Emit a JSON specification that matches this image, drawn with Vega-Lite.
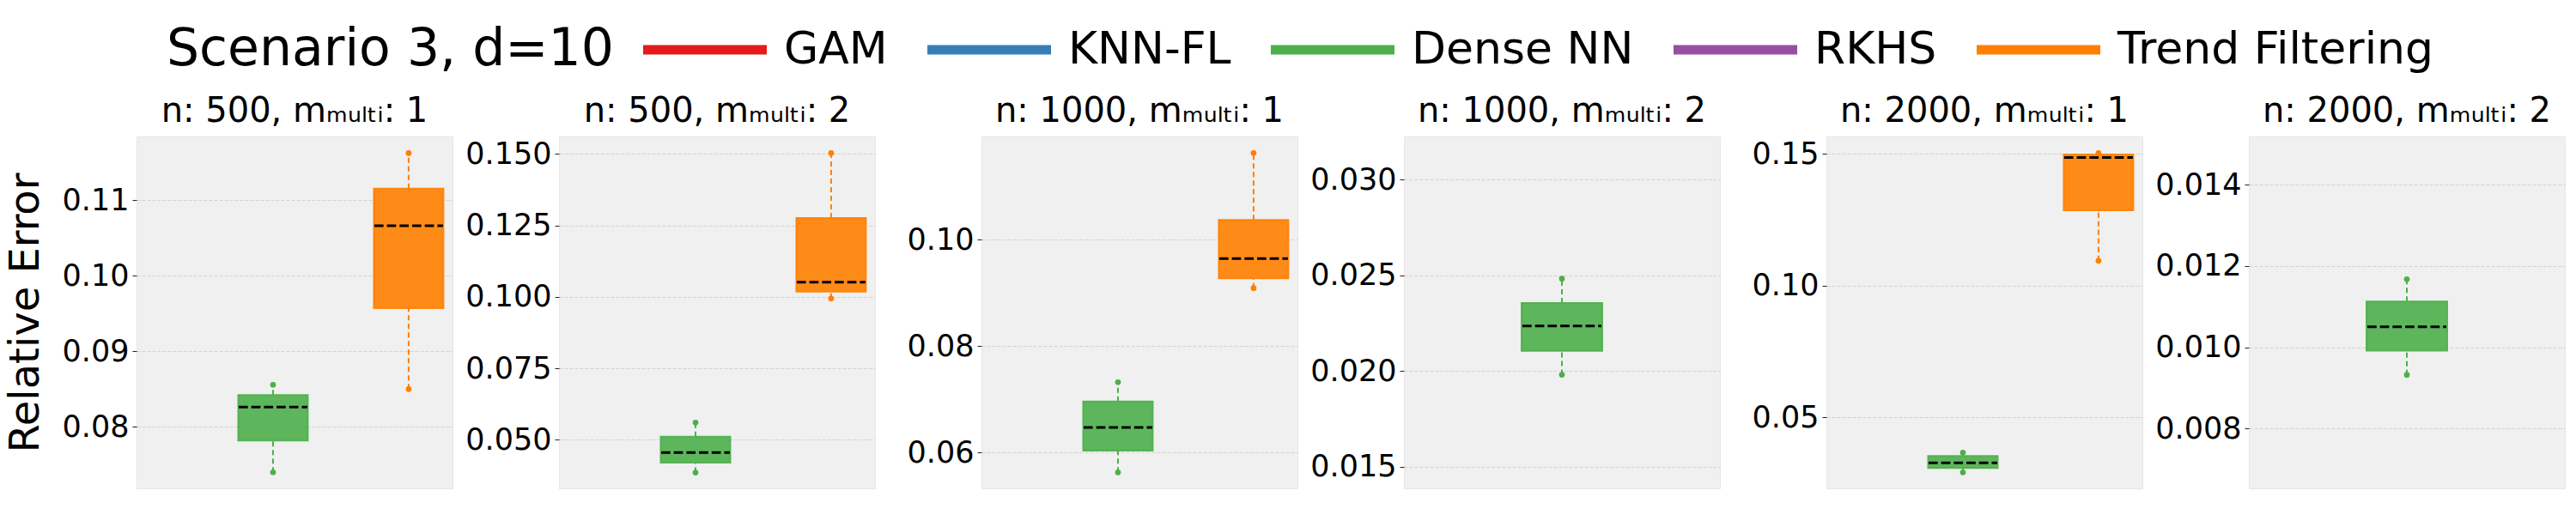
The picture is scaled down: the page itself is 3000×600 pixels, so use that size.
{
  "$schema": "https://vega.github.io/schema/vega-lite/v6.json",
  "background": "white",
  "padding": {"left": 5, "top": 32, "right": 5, "bottom": 29},
  "data": {"values": [
    {"panel": 1, "method": "Dense NN", "lower": 0.07398, "q1": 0.07818, "median": 0.08261, "q3": 0.08420, "upper": 0.08557},
    {"panel": 1, "method": "Trend Filtering", "lower": 0.0850, "q1": 0.09572, "median": 0.10663, "q3": 0.11155, "upper": 0.11625},
    {"panel": 2, "method": "Dense NN", "lower": 0.0385, "q1": 0.0420, "median": 0.0455, "q3": 0.0511, "upper": 0.0560},
    {"panel": 2, "method": "Trend Filtering", "lower": 0.0994, "q1": 0.1018, "median": 0.10511, "q3": 0.12758, "upper": 0.1503},
    {"panel": 3, "method": "Dense NN", "lower": 0.05629, "q1": 0.06037, "median": 0.06473, "q3": 0.06961, "upper": 0.07323},
    {"panel": 3, "method": "Trend Filtering", "lower": 0.0909, "q1": 0.09274, "median": 0.09645, "q3": 0.10371, "upper": 0.11629},
    {"panel": 4, "method": "Dense NN", "lower": 0.01981, "q1": 0.02106, "median": 0.02236, "q3": 0.02355, "upper": 0.02482},
    {"panel": 5, "method": "Dense NN", "lower": 0.02915, "q1": 0.03078, "median": 0.03274, "q3": 0.03534, "upper": 0.03664},
    {"panel": 5, "method": "Trend Filtering", "lower": 0.10945, "q1": 0.1286, "median": 0.1486, "q3": 0.1498, "upper": 0.1503},
    {"panel": 6, "method": "Dense NN", "lower": 0.009324, "q1": 0.009916, "median": 0.010507, "q3": 0.011126, "upper": 0.011675}
  ]},
  "hconcat": [
    {
      "width": 368, "height": 410,
      "title": "n: 500, mₘᵤₗₜᵢ: 1",
      "transform": [{"filter": "datum.panel == 1"}],
      "encoding": {"x": {"field": "method", "type": "nominal", "scale": {"type": "point", "domain": ["GAM", "KNN-FL", "Dense NN", "RKHS", "Trend Filtering"], "padding": 0.33, "align": 0.02}, "axis": null}},
      "layer": [
        {"mark": {"type": "bar", "size": 81, "fillOpacity": 0.9},
         "encoding": {"y": {"field": "q1", "type": "quantitative", "title": "Relative Error", "scale": {"domain": [0.07185, 0.11844], "nice": false, "zero": false}, "axis": {"values": [0.08, 0.09, 0.10, 0.11], "format": ".2f"}}, "y2": {"field": "q3"},
                      "color": {"field": "method", "type": "nominal", "title": "Scenario 3, d=10", "scale": {"domain": ["GAM", "KNN-FL", "Dense NN", "RKHS", "Trend Filtering"], "range": ["#e41a1c", "#377eb8", "#4daf4a", "#984ea3", "#ff7f00"]}}}},
        {"mark": {"type": "bar", "size": 81, "filled": false, "strokeWidth": 2, "strokeOpacity": 0.9},
         "encoding": {"y": {"field": "q1", "type": "quantitative", "title": "Relative Error"}, "y2": {"field": "q3"}, "color": {"field": "method", "type": "nominal", "title": "Scenario 3, d=10"}}},
        {"mark": {"type": "rule", "strokeDash": [6, 4], "strokeWidth": 2},
         "encoding": {"y": {"field": "lower", "type": "quantitative", "title": "Relative Error"}, "y2": {"field": "q1"}, "color": {"field": "method", "type": "nominal", "title": "Scenario 3, d=10"}}},
        {"mark": {"type": "rule", "strokeDash": [6, 4], "strokeWidth": 2},
         "encoding": {"y": {"field": "q3", "type": "quantitative", "title": "Relative Error"}, "y2": {"field": "upper"}, "color": {"field": "method", "type": "nominal", "title": "Scenario 3, d=10"}}},
        {"mark": {"type": "rule", "strokeDash": [10.7, 4], "strokeWidth": 3, "color": "black", "xOffset": -40, "x2Offset": 40},
         "encoding": {"y": {"field": "median", "type": "quantitative", "title": "Relative Error"}, "x2": {"field": "method"}}},
        {"mark": {"type": "point", "filled": true, "size": 45, "opacity": 1},
         "encoding": {"y": {"field": "lower", "type": "quantitative", "title": "Relative Error"}, "color": {"field": "method", "type": "nominal", "title": "Scenario 3, d=10"}}},
        {"mark": {"type": "point", "filled": true, "size": 45, "opacity": 1},
         "encoding": {"y": {"field": "upper", "type": "quantitative", "title": "Relative Error"}, "color": {"field": "method", "type": "nominal", "title": "Scenario 3, d=10"}}}
      ]
    },
    {
      "width": 368, "height": 410,
      "title": "n: 500, mₘᵤₗₜᵢ: 2",
      "transform": [{"filter": "datum.panel == 2"}],
      "encoding": {"x": {"field": "method", "type": "nominal", "scale": {"type": "point", "domain": ["GAM", "KNN-FL", "Dense NN", "RKHS", "Trend Filtering"], "padding": 0.33, "align": 0.02}, "axis": null}},
      "layer": [
        {"mark": {"type": "bar", "size": 81, "fillOpacity": 0.9},
         "encoding": {"y": {"field": "q1", "type": "quantitative", "title": null, "scale": {"domain": [0.03297, 0.15610], "nice": false, "zero": false}, "axis": {"values": [0.05, 0.075, 0.1, 0.125, 0.15], "format": ".3f"}}, "y2": {"field": "q3"},
                      "color": {"field": "method", "type": "nominal", "title": "Scenario 3, d=10", "scale": {"domain": ["GAM", "KNN-FL", "Dense NN", "RKHS", "Trend Filtering"], "range": ["#e41a1c", "#377eb8", "#4daf4a", "#984ea3", "#ff7f00"]}}}},
        {"mark": {"type": "bar", "size": 81, "filled": false, "strokeWidth": 2, "strokeOpacity": 0.9},
         "encoding": {"y": {"field": "q1", "type": "quantitative", "title": null}, "y2": {"field": "q3"}, "color": {"field": "method", "type": "nominal", "title": "Scenario 3, d=10"}}},
        {"mark": {"type": "rule", "strokeDash": [6, 4], "strokeWidth": 2},
         "encoding": {"y": {"field": "lower", "type": "quantitative", "title": null}, "y2": {"field": "q1"}, "color": {"field": "method", "type": "nominal", "title": "Scenario 3, d=10"}}},
        {"mark": {"type": "rule", "strokeDash": [6, 4], "strokeWidth": 2},
         "encoding": {"y": {"field": "q3", "type": "quantitative", "title": null}, "y2": {"field": "upper"}, "color": {"field": "method", "type": "nominal", "title": "Scenario 3, d=10"}}},
        {"mark": {"type": "rule", "strokeDash": [10.7, 4], "strokeWidth": 3, "color": "black", "xOffset": -40, "x2Offset": 40},
         "encoding": {"y": {"field": "median", "type": "quantitative", "title": null}, "x2": {"field": "method"}}},
        {"mark": {"type": "point", "filled": true, "size": 45, "opacity": 1},
         "encoding": {"y": {"field": "lower", "type": "quantitative", "title": null}, "color": {"field": "method", "type": "nominal", "title": "Scenario 3, d=10"}}},
        {"mark": {"type": "point", "filled": true, "size": 45, "opacity": 1},
         "encoding": {"y": {"field": "upper", "type": "quantitative", "title": null}, "color": {"field": "method", "type": "nominal", "title": "Scenario 3, d=10"}}}
      ]
    },
    {
      "width": 368, "height": 410,
      "title": "n: 1000, mₘᵤₗₜᵢ: 1",
      "transform": [{"filter": "datum.panel == 3"}],
      "encoding": {"x": {"field": "method", "type": "nominal", "scale": {"type": "point", "domain": ["GAM", "KNN-FL", "Dense NN", "RKHS", "Trend Filtering"], "padding": 0.33, "align": 0.02}, "axis": null}},
      "layer": [
        {"mark": {"type": "bar", "size": 81, "fillOpacity": 0.9},
         "encoding": {"y": {"field": "q1", "type": "quantitative", "title": null, "scale": {"domain": [0.05327, 0.1194], "nice": false, "zero": false}, "axis": {"values": [0.06, 0.08, 0.10], "format": ".2f"}}, "y2": {"field": "q3"},
                      "color": {"field": "method", "type": "nominal", "title": "Scenario 3, d=10", "scale": {"domain": ["GAM", "KNN-FL", "Dense NN", "RKHS", "Trend Filtering"], "range": ["#e41a1c", "#377eb8", "#4daf4a", "#984ea3", "#ff7f00"]}}}},
        {"mark": {"type": "bar", "size": 81, "filled": false, "strokeWidth": 2, "strokeOpacity": 0.9},
         "encoding": {"y": {"field": "q1", "type": "quantitative", "title": null}, "y2": {"field": "q3"}, "color": {"field": "method", "type": "nominal", "title": "Scenario 3, d=10"}}},
        {"mark": {"type": "rule", "strokeDash": [6, 4], "strokeWidth": 2},
         "encoding": {"y": {"field": "lower", "type": "quantitative", "title": null}, "y2": {"field": "q1"}, "color": {"field": "method", "type": "nominal", "title": "Scenario 3, d=10"}}},
        {"mark": {"type": "rule", "strokeDash": [6, 4], "strokeWidth": 2},
         "encoding": {"y": {"field": "q3", "type": "quantitative", "title": null}, "y2": {"field": "upper"}, "color": {"field": "method", "type": "nominal", "title": "Scenario 3, d=10"}}},
        {"mark": {"type": "rule", "strokeDash": [10.7, 4], "strokeWidth": 3, "color": "black", "xOffset": -40, "x2Offset": 40},
         "encoding": {"y": {"field": "median", "type": "quantitative", "title": null}, "x2": {"field": "method"}}},
        {"mark": {"type": "point", "filled": true, "size": 45, "opacity": 1},
         "encoding": {"y": {"field": "lower", "type": "quantitative", "title": null}, "color": {"field": "method", "type": "nominal", "title": "Scenario 3, d=10"}}},
        {"mark": {"type": "point", "filled": true, "size": 45, "opacity": 1},
         "encoding": {"y": {"field": "upper", "type": "quantitative", "title": null}, "color": {"field": "method", "type": "nominal", "title": "Scenario 3, d=10"}}}
      ]
    },
    {
      "width": 368, "height": 410,
      "title": "n: 1000, mₘᵤₗₜᵢ: 2",
      "transform": [{"filter": "datum.panel == 4"}],
      "encoding": {"x": {"field": "method", "type": "nominal", "scale": {"type": "point", "domain": ["GAM", "KNN-FL", "Dense NN", "RKHS", "Trend Filtering"], "padding": 0.5, "align": 0.5}, "axis": null}},
      "layer": [
        {"mark": {"type": "bar", "size": 94, "fillOpacity": 0.9},
         "encoding": {"y": {"field": "q1", "type": "quantitative", "title": null, "scale": {"domain": [0.01388, 0.03224], "nice": false, "zero": false}, "axis": {"values": [0.015, 0.02, 0.025, 0.03], "format": ".3f"}}, "y2": {"field": "q3"},
                      "color": {"field": "method", "type": "nominal", "title": "Scenario 3, d=10", "scale": {"domain": ["GAM", "KNN-FL", "Dense NN", "RKHS", "Trend Filtering"], "range": ["#e41a1c", "#377eb8", "#4daf4a", "#984ea3", "#ff7f00"]}}}},
        {"mark": {"type": "bar", "size": 94, "filled": false, "strokeWidth": 2, "strokeOpacity": 0.9},
         "encoding": {"y": {"field": "q1", "type": "quantitative", "title": null}, "y2": {"field": "q3"}, "color": {"field": "method", "type": "nominal", "title": "Scenario 3, d=10"}}},
        {"mark": {"type": "rule", "strokeDash": [6, 4], "strokeWidth": 2},
         "encoding": {"y": {"field": "lower", "type": "quantitative", "title": null}, "y2": {"field": "q1"}, "color": {"field": "method", "type": "nominal", "title": "Scenario 3, d=10"}}},
        {"mark": {"type": "rule", "strokeDash": [6, 4], "strokeWidth": 2},
         "encoding": {"y": {"field": "q3", "type": "quantitative", "title": null}, "y2": {"field": "upper"}, "color": {"field": "method", "type": "nominal", "title": "Scenario 3, d=10"}}},
        {"mark": {"type": "rule", "strokeDash": [10.7, 4], "strokeWidth": 3, "color": "black", "xOffset": -46, "x2Offset": 46},
         "encoding": {"y": {"field": "median", "type": "quantitative", "title": null}, "x2": {"field": "method"}}},
        {"mark": {"type": "point", "filled": true, "size": 45, "opacity": 1},
         "encoding": {"y": {"field": "lower", "type": "quantitative", "title": null}, "color": {"field": "method", "type": "nominal", "title": "Scenario 3, d=10"}}},
        {"mark": {"type": "point", "filled": true, "size": 45, "opacity": 1},
         "encoding": {"y": {"field": "upper", "type": "quantitative", "title": null}, "color": {"field": "method", "type": "nominal", "title": "Scenario 3, d=10"}}}
      ]
    },
    {
      "width": 368, "height": 410,
      "title": "n: 2000, mₘᵤₗₜᵢ: 1",
      "transform": [{"filter": "datum.panel == 5"}],
      "encoding": {"x": {"field": "method", "type": "nominal", "scale": {"type": "point", "domain": ["GAM", "KNN-FL", "Dense NN", "RKHS", "Trend Filtering"], "padding": 0.33, "align": 0.02}, "axis": null}},
      "layer": [
        {"mark": {"type": "bar", "size": 81, "fillOpacity": 0.9},
         "encoding": {"y": {"field": "q1", "type": "quantitative", "title": null, "scale": {"domain": [0.02306, 0.15661], "nice": false, "zero": false}, "axis": {"values": [0.05, 0.10, 0.15], "format": ".2f"}}, "y2": {"field": "q3"},
                      "color": {"field": "method", "type": "nominal", "title": "Scenario 3, d=10", "scale": {"domain": ["GAM", "KNN-FL", "Dense NN", "RKHS", "Trend Filtering"], "range": ["#e41a1c", "#377eb8", "#4daf4a", "#984ea3", "#ff7f00"]}}}},
        {"mark": {"type": "bar", "size": 81, "filled": false, "strokeWidth": 2, "strokeOpacity": 0.9},
         "encoding": {"y": {"field": "q1", "type": "quantitative", "title": null}, "y2": {"field": "q3"}, "color": {"field": "method", "type": "nominal", "title": "Scenario 3, d=10"}}},
        {"mark": {"type": "rule", "strokeDash": [6, 4], "strokeWidth": 2},
         "encoding": {"y": {"field": "lower", "type": "quantitative", "title": null}, "y2": {"field": "q1"}, "color": {"field": "method", "type": "nominal", "title": "Scenario 3, d=10"}}},
        {"mark": {"type": "rule", "strokeDash": [6, 4], "strokeWidth": 2},
         "encoding": {"y": {"field": "q3", "type": "quantitative", "title": null}, "y2": {"field": "upper"}, "color": {"field": "method", "type": "nominal", "title": "Scenario 3, d=10"}}},
        {"mark": {"type": "rule", "strokeDash": [10.7, 4], "strokeWidth": 3, "color": "black", "xOffset": -40, "x2Offset": 40},
         "encoding": {"y": {"field": "median", "type": "quantitative", "title": null}, "x2": {"field": "method"}}},
        {"mark": {"type": "point", "filled": true, "size": 45, "opacity": 1},
         "encoding": {"y": {"field": "lower", "type": "quantitative", "title": null}, "color": {"field": "method", "type": "nominal", "title": "Scenario 3, d=10"}}},
        {"mark": {"type": "point", "filled": true, "size": 45, "opacity": 1},
         "encoding": {"y": {"field": "upper", "type": "quantitative", "title": null}, "color": {"field": "method", "type": "nominal", "title": "Scenario 3, d=10"}}}
      ]
    },
    {
      "width": 368, "height": 410,
      "title": "n: 2000, mₘᵤₗₜᵢ: 2",
      "transform": [{"filter": "datum.panel == 6"}],
      "encoding": {"x": {"field": "method", "type": "nominal", "scale": {"type": "point", "domain": ["GAM", "KNN-FL", "Dense NN", "RKHS", "Trend Filtering"], "padding": 0.5, "align": 0.5}, "axis": null}},
      "layer": [
        {"mark": {"type": "bar", "size": 94, "fillOpacity": 0.9},
         "encoding": {"y": {"field": "q1", "type": "quantitative", "title": null, "scale": {"domain": [0.006528, 0.015189], "nice": false, "zero": false}, "axis": {"values": [0.008, 0.010, 0.012, 0.014], "format": ".3f"}}, "y2": {"field": "q3"},
                      "color": {"field": "method", "type": "nominal", "title": "Scenario 3, d=10", "scale": {"domain": ["GAM", "KNN-FL", "Dense NN", "RKHS", "Trend Filtering"], "range": ["#e41a1c", "#377eb8", "#4daf4a", "#984ea3", "#ff7f00"]}}}},
        {"mark": {"type": "bar", "size": 94, "filled": false, "strokeWidth": 2, "strokeOpacity": 0.9},
         "encoding": {"y": {"field": "q1", "type": "quantitative", "title": null}, "y2": {"field": "q3"}, "color": {"field": "method", "type": "nominal", "title": "Scenario 3, d=10"}}},
        {"mark": {"type": "rule", "strokeDash": [6, 4], "strokeWidth": 2},
         "encoding": {"y": {"field": "lower", "type": "quantitative", "title": null}, "y2": {"field": "q1"}, "color": {"field": "method", "type": "nominal", "title": "Scenario 3, d=10"}}},
        {"mark": {"type": "rule", "strokeDash": [6, 4], "strokeWidth": 2},
         "encoding": {"y": {"field": "q3", "type": "quantitative", "title": null}, "y2": {"field": "upper"}, "color": {"field": "method", "type": "nominal", "title": "Scenario 3, d=10"}}},
        {"mark": {"type": "rule", "strokeDash": [10.7, 4], "strokeWidth": 3, "color": "black", "xOffset": -46, "x2Offset": 46},
         "encoding": {"y": {"field": "median", "type": "quantitative", "title": null}, "x2": {"field": "method"}}},
        {"mark": {"type": "point", "filled": true, "size": 45, "opacity": 1},
         "encoding": {"y": {"field": "lower", "type": "quantitative", "title": null}, "color": {"field": "method", "type": "nominal", "title": "Scenario 3, d=10"}}},
        {"mark": {"type": "point", "filled": true, "size": 45, "opacity": 1},
         "encoding": {"y": {"field": "upper", "type": "quantitative", "title": null}, "color": {"field": "method", "type": "nominal", "title": "Scenario 3, d=10"}}}
      ]
    }
  ],
  "spacing": 124,
  "bounds": "flush",
  "config": {
    "font": "DejaVu Sans",
    "view": {"fill": "#f0f0f0", "stroke": "#e6e6e6", "strokeWidth": 1},
    "title": {"fontSize": 40, "fontWeight": "normal", "color": "black", "anchor": "middle", "baseline": "alphabetic", "offset": 9, "font": "DejaVu Sans"},
    "axisY": {"labelFontSize": 35, "labelColor": "black", "tickSize": 5, "tickColor": "#222222", "tickWidth": 1, "domain": false, "grid": true, "gridColor": "#d3d3d3", "gridDash": [4, 2], "gridWidth": 1, "labelPadding": 4, "titleFontSize": 48, "titleFontWeight": "normal", "titleColor": "black", "titlePadding": 18, "zindex": 1, "labelFlush": false, "labelOverlap": false},
    "legend": {"orient": "none", "legendX": 35, "legendY": -127, "direction": "horizontal", "columns": 5, "symbolType": "M-6,-0.46L6,-0.46L6,0.46L-6,0.46Z", "symbolSize": 576, "symbolStrokeWidth": 0, "symbolOpacity": 1, "labelFontSize": 52, "labelColor": "black", "labelOffset": 66, "labelLimit": 1000, "columnPadding": 46, "titleFontSize": 60, "titleFontWeight": "normal", "titleColor": "black", "titleOrient": "left", "titlePadding": 80, "titleLimit": 1000, "padding": 0}
  }
}
